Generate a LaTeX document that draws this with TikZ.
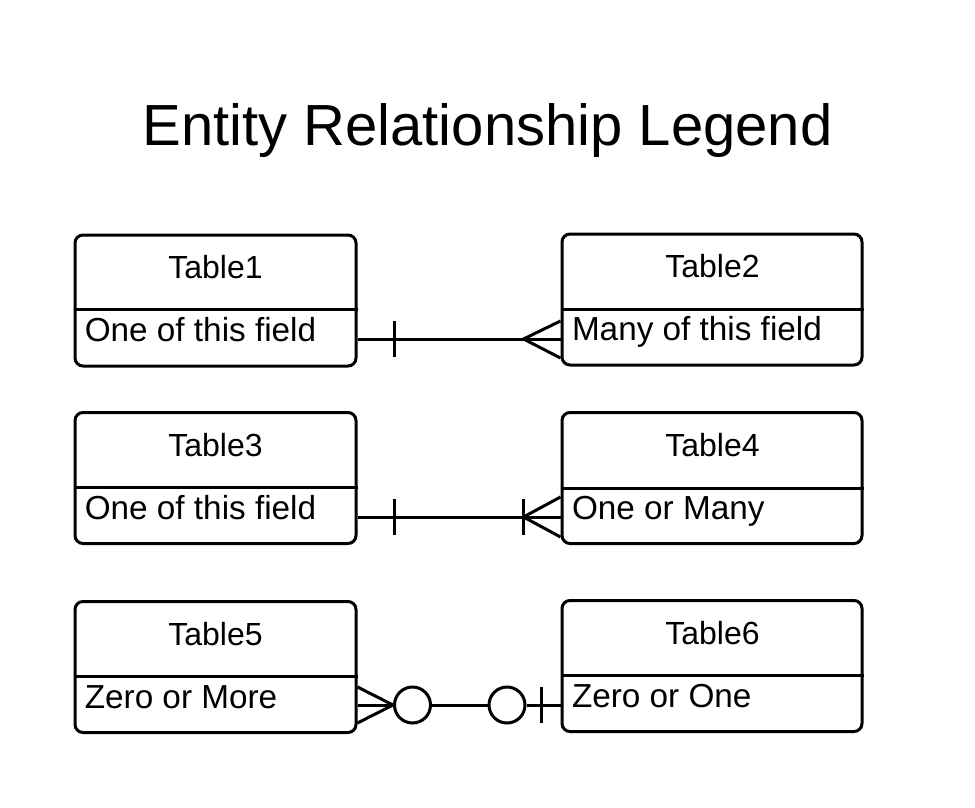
\documentclass[tikz,border=0pt]{standalone}
\usepackage{fontspec}
\setmainfont{Liberation Sans}
\begin{document}
\begin{tikzpicture}[x=1pt,y=-1pt,line width=3pt,
  tbl/.style={draw,rounded corners=8pt,minimum width=281pt,minimum height=131pt,inner sep=0pt},
  hdr/.style={font=\fontsize{32}{38}\selectfont,inner sep=0pt,anchor=base},
  fld/.style={font=\fontsize{33.3}{40}\selectfont,inner sep=0pt,anchor=base west},
  conn/.style={line width=3pt}]
\useasboundingbox (0,0) rectangle (975,808);
\node[font=\fontsize{58}{66}\selectfont,anchor=base,inner sep=0pt] (title) at (487.5,145) {Entity Relationship Legend};
% row 1
\node[tbl] (t1) at (215.5,300.5) {};
\node[tbl,minimum width=300pt] (t2) at (712,299.5) {};
\draw (t1.west |- 0,309) -- (t1.east |- 0,309);
\draw (t2.west |- 0,309) -- (t2.east |- 0,309);
\node[hdr] (h1) at (215.5,278) {Table1};
\node[hdr] (h2) at (712.5,277.5) {Table2};
\node[fld] (f1) at (83.3,341) {One of this field};
\node[fld] (f2) at (570.5,340.5) {Many of this field};
% row 2
\node[tbl] (t3) at (215.5,478) {};
\node[tbl,minimum width=300pt] (t4) at (712,478) {};
\draw (t3.west |- 0,487) -- (t3.east |- 0,487);
\draw (t4.west |- 0,488) -- (t4.east |- 0,488);
\node[hdr] (h3) at (215.5,456) {Table3};
\node[hdr] (h4) at (712.5,456) {Table4};
\node[fld] (f3) at (83.3,519) {One of this field};
\node[fld] (f4) at (570.5,519) {One or Many};
% row 3
\node[tbl] (t5) at (215.5,667) {};
\node[tbl,minimum width=300pt] (t6) at (712,666) {};
\draw (t5.west |- 0,676) -- (t5.east |- 0,676);
\draw (t6.west |- 0,675) -- (t6.east |- 0,675);
\node[hdr] (h5) at (215.5,645) {Table5};
\node[hdr] (h6) at (712.5,644) {Table6};
\node[fld] (f5) at (83.3,708) {Zero or More};
\node[fld] (f6) at (570.5,707) {Zero or One};
% connector 1: one -- many
\coordinate (p1) at (t1.east |- 0,339);
\coordinate (q1) at (t2.west |- 0,339);
\draw[conn] (p1) -- (q1);
\draw[conn] ([xshift=37pt]p1) ++(0,-18) -- ++(0,36);
\draw[conn] ([yshift=-19pt]q1) -- ([xshift=-37pt]q1) -- ([yshift=18pt]q1);
% connector 2: one -- one or many
\coordinate (p2) at (t3.east |- 0,517);
\coordinate (q2) at (t4.west |- 0,517);
\draw[conn] (p2) -- (q2);
\draw[conn] ([xshift=37pt]p2) ++(0,-18) -- ++(0,36);
\draw[conn] ([xshift=-37pt]q2) ++(0,-18) -- ++(0,36);
\draw[conn] ([yshift=-20pt]q2) -- ([xshift=-37pt]q2) -- ([yshift=20pt]q2);
% connector 3: zero or more -- zero or one
\coordinate (p3) at (t5.east |- 0,705);
\coordinate (q3) at (t6.west |- 0,705);
\node[draw,circle,minimum size=36pt,inner sep=0pt] (c1) at (412.5,705) {};
\node[draw,circle,minimum size=36pt,inner sep=0pt] (c2) at (507,705) {};
\draw[conn] ([yshift=-18pt]p3) -- (c1.west) -- ([yshift=18pt]p3);
\draw[conn] (p3) -- (c1.west);
\draw[conn] (c1.east) -- (c2.west);
\draw[conn] (c2.east) -- (q3);
\draw[conn] ([xshift=-19pt]q3) ++(0,-18) -- ++(0,36);
\end{tikzpicture}
\end{document}
